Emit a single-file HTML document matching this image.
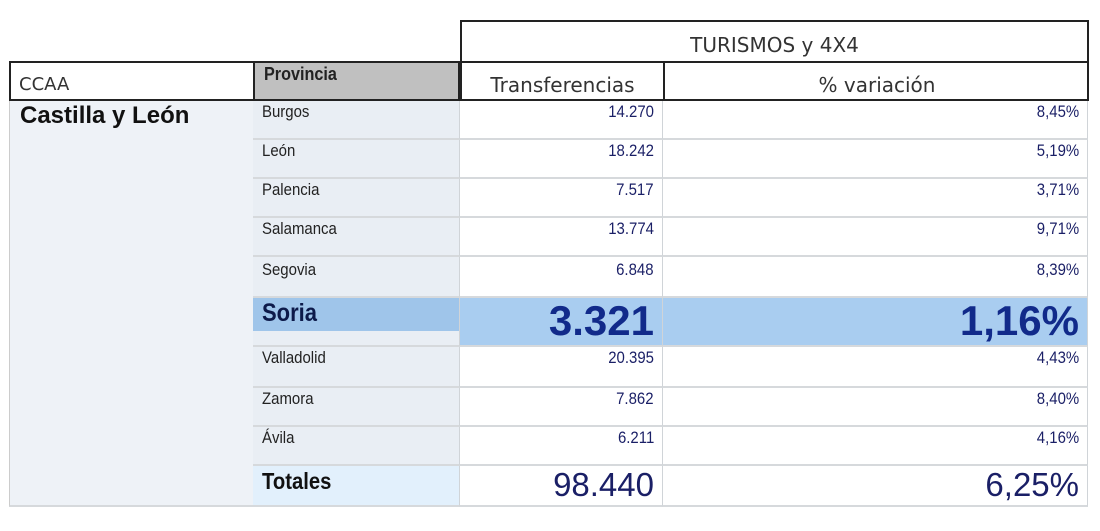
<html><head><style>
body{margin:0;width:1100px;height:531px;background:#fff;position:relative;overflow:hidden;font-family:"Liberation Sans",Arial,sans-serif}
div{position:absolute;box-sizing:border-box}
.c{border-right:1px solid #d0d4d8;border-bottom:2px solid #d6d9dc}
.p{left:253px;width:207px;background:#e9eef4;color:#222;font-size:17px;padding:1px 0 0 9px}
.t{left:460px;width:203px;background:#fff;color:#1a1f66;font-size:17px;text-align:right;padding:1px 8px 0 0}
.v{left:663px;width:425px;background:#fff;color:#1a1f66;font-size:17px;text-align:right;padding:1px 8px 0 0}
.p span{display:inline-block;transform:scaleX(.88);transform-origin:left}
.t span,.v span{display:inline-block;transform:scaleX(.88);transform-origin:right}
.big span{transform:none}
</style></head><body>
<div style="left:460px;top:20px;width:629px;height:42px;border:2px solid #222;border-bottom:none;font-family:'DejaVu Sans',sans-serif;font-size:20px;color:#333;text-align:center;padding-top:11px">TURISMOS y 4X4</div>
<div style="left:9px;top:61px;width:1080px;height:40px;border:2px solid #222"></div>
<div style="left:11px;top:63px;width:242px;height:36px;font-family:'DejaVu Sans',sans-serif;font-size:18px;color:#333;padding:11px 0 0 8px">CCAA</div>
<div style="left:253px;top:61px;width:207px;height:40px;background:#c0c0c0;border:2px solid #222;font-weight:bold;font-size:18px;color:#222;padding:1px 0 0 9px"><span style="display:inline-block;transform:scaleX(.9);transform-origin:left">Provincia</span></div>
<div style="left:460px;top:61px;width:203px;height:40px;border-left:2px solid #222;font-family:'DejaVu Sans',sans-serif;font-size:20px;color:#333;text-align:center;padding-top:12px">Transferencias</div>
<div style="left:663px;top:61px;width:426px;height:40px;border-left:2px solid #222;font-family:'DejaVu Sans',sans-serif;font-size:20px;color:#333;text-align:center;padding-top:12px">% variación</div>
<div style="left:9px;top:101px;width:244px;height:406px;background:#eef2f7;border-left:1px solid #ccc;border-bottom:2px solid #d6d9dc;font-weight:bold;font-size:24px;color:#111;padding:1px 0 0 10px">Castilla y León</div>

<div class="c p" style="top:101px;height:39px"><span>Burgos</span></div><div class="c t" style="top:101px;height:39px"><span>14.270</span></div><div class="c v" style="top:101px;height:39px"><span>8,45%</span></div>
<div class="c p" style="top:140px;height:39px"><span>León</span></div><div class="c t" style="top:140px;height:39px"><span>18.242</span></div><div class="c v" style="top:140px;height:39px"><span>5,19%</span></div>
<div class="c p" style="top:179px;height:39px"><span>Palencia</span></div><div class="c t" style="top:179px;height:39px"><span>7.517</span></div><div class="c v" style="top:179px;height:39px"><span>3,71%</span></div>
<div class="c p" style="top:218px;height:39px"><span>Salamanca</span></div><div class="c t" style="top:218px;height:39px"><span>13.774</span></div><div class="c v" style="top:218px;height:39px"><span>9,71%</span></div>
<div class="c p" style="top:257px;height:41px;padding-top:3px"><span>Segovia</span></div><div class="c t" style="top:257px;height:41px;padding-top:3px"><span>6.848</span></div><div class="c v" style="top:257px;height:41px;padding-top:3px"><span>8,39%</span></div>

<div class="c p" style="top:298px;height:49px;background:linear-gradient(#9fc5ea 0,#9fc5ea 33px,#e9eef4 33px);font-size:25px;font-weight:bold;color:#0d1a4a;padding-top:1px"><span>Soria</span></div>
<div class="c t big" style="top:298px;height:49px;background:#a9cdf0;font-size:42px;font-weight:bold;color:#112a8a;padding-top:0;line-height:46px"><span>3.321</span></div>
<div class="c v big" style="top:298px;height:49px;background:#a9cdf0;font-size:42px;font-weight:bold;color:#112a8a;padding-top:0;line-height:46px"><span>1,16%</span></div>

<div class="c p" style="top:347px;height:41px"><span>Valladolid</span></div><div class="c t" style="top:347px;height:41px"><span>20.395</span></div><div class="c v" style="top:347px;height:41px"><span>4,43%</span></div>
<div class="c p" style="top:388px;height:39px"><span>Zamora</span></div><div class="c t" style="top:388px;height:39px"><span>7.862</span></div><div class="c v" style="top:388px;height:39px"><span>8,40%</span></div>
<div class="c p" style="top:427px;height:39px"><span>Ávila</span></div><div class="c t" style="top:427px;height:39px"><span>6.211</span></div><div class="c v" style="top:427px;height:39px"><span>4,16%</span></div>

<div class="c p" style="top:466px;height:41px;background:#e2f0fc;font-size:23px;font-weight:bold;color:#111;padding-top:2px"><span>Totales</span></div>
<div class="c t big" style="top:466px;height:41px;font-size:33px;color:#1a1f66;padding-top:0"><span>98.440</span></div>
<div class="c v big" style="top:466px;height:41px;font-size:33px;color:#1a1f66;padding-top:0"><span>6,25%</span></div>
</body></html>
